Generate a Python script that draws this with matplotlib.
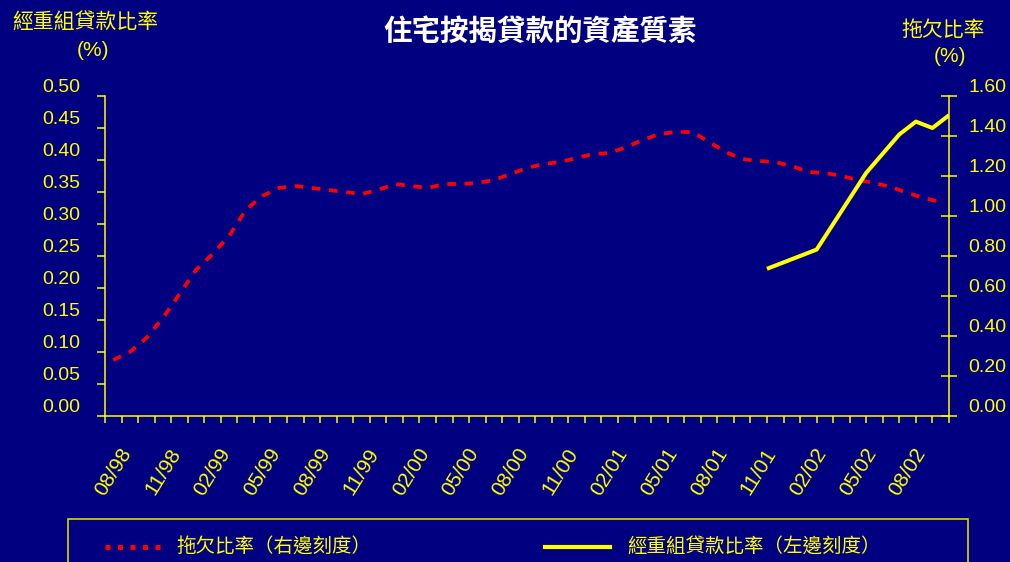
import numpy as np
import pandas as pd
import matplotlib
matplotlib.use('Agg')
import matplotlib.pyplot as plt
from matplotlib.patches import Rectangle
from matplotlib.lines import Line2D

cjk = ['Noto Sans CJK TC', 'DejaVu Sans']
num = ['Liberation Sans', 'DejaVu Sans']

# monthly categories 08/98 .. 10/02
months = list(pd.date_range('1998-08-01', periods=51, freq='MS').strftime('%m/%y'))

# delinquency ratio (right scale, %)
arrears = [0.28, 0.32, 0.39, 0.49, 0.61, 0.73, 0.81, 0.90, 1.03, 1.10,
           1.14, 1.15, 1.14, 1.13, 1.12, 1.11, 1.13, 1.16, 1.15, 1.14,
           1.16, 1.16, 1.165, 1.18, 1.21, 1.24, 1.26, 1.27, 1.29, 1.31,
           1.315, 1.345, 1.38, 1.41, 1.42, 1.42, 1.37, 1.32, 1.285, 1.275,
           1.27, 1.25, 1.22, 1.215, 1.20, 1.18, 1.165, 1.145, 1.115, 1.09,
           1.07]

# rescheduled loan ratio (left scale, %)
resched_months = ['11/01', '02/02', '03/02', '04/02', '05/02',
                  '06/02', '07/02', '08/02', '09/02', '10/02']
resched = [0.23, 0.26, 0.30, 0.34, 0.38, 0.41, 0.44, 0.46, 0.45, 0.47]

left_ticks = np.arange(0, 0.501, 0.05)
right_ticks = np.arange(0, 1.601, 0.2)

navy = '#000080'
yel = '#FFFF00'

fig = plt.figure(figsize=(10.1, 5.62), dpi=100, facecolor=navy)
ax = fig.add_axes([105/1010, 1-416/562, 844/1010, 320/562])
ax2 = ax.twinx()
ax.set_zorder(ax2.get_zorder() + 1)
ax.patch.set_visible(False)
ax2.patch.set_visible(True)
ax2.patch.set_facecolor(navy)

x = np.arange(len(months))
ax2.plot(x, arrears, color='red', lw=2.7, dashes=(2.3, 2.3),
         dash_capstyle='butt')
xr = [months.index(m) + 0.5 for m in resched_months]
ax.plot(xr, resched, color=yel, lw=2.9, solid_capstyle='butt')

ax.set_xlim(-0.5, len(months) - 0.5)
ax.set_ylim(0, 0.5)
ax2.set_ylim(0, 1.6)

for a in (ax, ax2):
    for s in a.spines.values():
        s.set_visible(False)
ax.spines['left'].set_visible(True)
ax.spines['bottom'].set_visible(True)
ax2.spines['right'].set_visible(True)
for s in (ax.spines['left'], ax.spines['bottom'], ax2.spines['right']):
    s.set_color(yel)
    s.set_linewidth(1.1)

ax.set_yticks(left_ticks, labels=['%.2f' % v for v in left_ticks])
ax2.set_yticks(right_ticks, labels=['%.2f' % v for v in right_ticks])
ax.tick_params(axis='y', direction='out', length=6, width=1.1, color=yel,
               labelcolor=yel, labelsize=14, pad=12)
ax2.tick_params(axis='y', direction='inout', length=12, width=1.1, color=yel,
                labelcolor=yel, labelsize=14, pad=8)
for lbl in ax.get_yticklabels() + ax2.get_yticklabels():
    lbl.set_va('bottom')
    lbl.set_family(num)

ax.set_xticks(np.arange(-0.5, len(months)), labels=[])
ax.tick_params(axis='x', which='major', direction='out', length=5.3,
               width=1.1, color=yel)
lab_idx = list(range(0, len(months), 3))
ax.set_xticks(lab_idx, labels=[months[i] for i in lab_idx], minor=True)
ax.tick_params(axis='x', which='minor', length=0, pad=40, labelsize=15,
               labelcolor=yel)
for lbl in ax.get_xticklabels(minor=True):
    lbl.set_rotation(58)
    lbl.set_ha('center')
    lbl.set_va('center')
    lbl.set_rotation_mode('anchor')
    lbl.set_family(num)

# titles
fig.text(540/1010, 1-32/562, '住宅按揭貸款的資產質素', ha='center', va='center',
         color='white', fontsize=20.5, fontweight='bold', family=cjk)
fig.text(85/1010, 1-22/562, '經重組貸款比率', ha='center', va='center',
         color=yel, fontsize=15, family=cjk)
fig.text(93/1010, 1-50/562, '(%)', ha='center', va='center',
         color=yel, fontsize=15, family=num)
fig.text(943/1010, 1-30/562, '拖欠比率', ha='center', va='center',
         color=yel, fontsize=15, family=cjk)
fig.text(950/1010, 1-57/562, '(%)', ha='center', va='center',
         color=yel, fontsize=15, family=num)

# legend box (bottom cut by figure edge)
fig.patches.append(Rectangle((68/1010, -0.2), 900/1010, 0.2 + 1-519/562,
                             transform=fig.transFigure, fill=False,
                             edgecolor='#D8D800', lw=1.2))
ly = 1 - 547/562
fig.lines.append(Line2D([105/1010, 162/1010], [ly, ly], transform=fig.transFigure,
                        color='red', lw=3.6, dashes=(1.0, 1.5),
                        dash_capstyle='butt'))
fig.text(176/1010, ly, '拖欠比率（右邊刻度）', va='center', color=yel,
         fontsize=14, family=cjk)
fig.lines.append(Line2D([545/1010, 610/1010], [ly, ly], transform=fig.transFigure,
                        color=yel, lw=3.0))
fig.text(627/1010, ly, '經重組貸款比率（左邊刻度）', va='center', color=yel,
         fontsize=14, family=cjk)

fig.savefig('out.png', dpi=100, facecolor=navy)
